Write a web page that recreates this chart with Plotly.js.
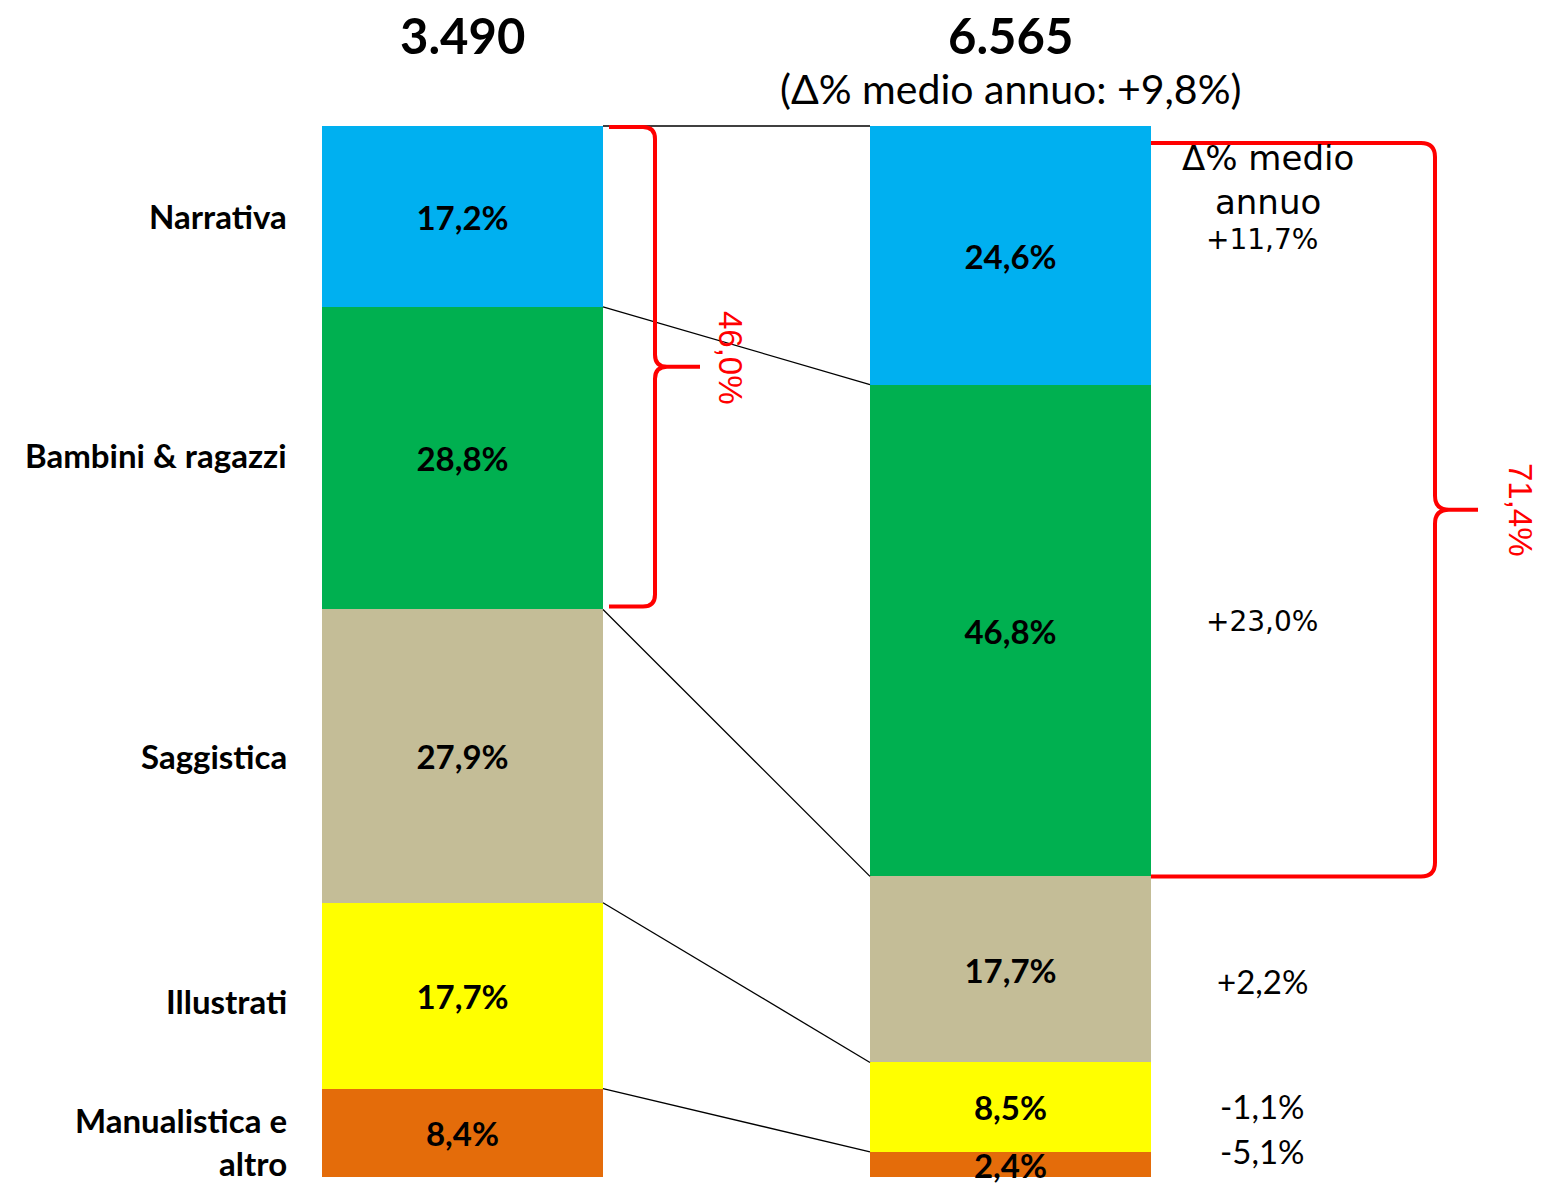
<!DOCTYPE html>
<html>
<head>
<meta charset="utf-8">
<script src="https://cdn.plot.ly/plotly-3.0.1.min.js"></script>
<style>
  html, body { margin: 0; padding: 0; background: #ffffff; }
  #chart { width: 1557px; height: 1197px; }
</style>
</head>
<body>
<div id="chart"></div>
<script>
// ---------------- DATA ----------------
const categories = ["Manualistica e<br>altro", "Illustrati", "Saggistica", "Bambini & ragazzi", "Narrativa"];
const leftShares  = [8.4, 17.7, 27.9, 28.8, 17.2];
const rightShares = [2.4, 8.5, 17.7, 46.8, 24.6];
const growthLabels = ["-5,1%", "-1,1%", "+2,2%", "+23,0%", "+11,7%"];
const totalLeft = "3.490";
const totalRight = "6.565";
const totalGrowth = "(Δ% medio annuo: +9,8%)";
const growthHeader = "Δ% medio<br>annuo";
const braceLeftLabel = "46,0%";
const braceRightLabel = "71,4%";

// ---------------- STYLE / LAYOUT ----------------
const colors = ["#E46C0A", "#FFFF00", "#C4BD97", "#00B050", "#00B0F0"];
const W = 1557, H = 1197;
const PX0 = 462.5, PXU = 548;      // pixel x of bar 0 centre, px per x unit
const PY0 = 1177, PYU = 10.51;     // pixel y of value 0, px per value unit
const X = px => (px - PX0) / PXU;
const Y = py => (PY0 - py) / PYU;
const barW = 281 / PXU;
const fmt = v => v.toFixed(1).replace('.', ',') + '%';
const textShift = -5 / PYU;        // optical shift of labels inside bars

function cumul(arr) { const out = [0]; arr.forEach(v => out.push(out[out.length - 1] + v)); return out; }
const cumL = cumul(leftShares), cumR = cumul(rightShares);

const CAL_B = "Lato, 'Open Sans', sans-serif";
const VERD = "'DejaVu Sans', Verdana, sans-serif";

const traces = categories.map((c, i) => ({
  type: 'bar', x: [0, 1], y: [leftShares[i], rightShares[i]],
  width: barW, name: c, marker: { color: colors[i], line: { width: 0 } },
  hoverinfo: 'skip', showlegend: false
}));

// labels inside bars
const tx = [], ty = [], tt = [];
leftShares.forEach((v, i) => { tx.push(0); ty.push(cumL[i] + v / 2 + textShift); tt.push(fmt(v)); });
rightShares.forEach((v, i) => { tx.push(1); ty.push(cumR[i] + v / 2 + textShift); tt.push(fmt(v)); });
traces.push({
  type: 'scatter', mode: 'text', x: tx, y: ty, text: tt.map(t => '<b>' + t + '</b>'),
  textposition: 'middle center', cliponaxis: false, hoverinfo: 'skip', showlegend: false,
  textfont: { family: CAL_B, size: 33, color: '#000000' }
});

const shapes = [];
// connecting lines
const xL = barW / 2, xR = 1 - barW / 2, xRR = 1 + barW / 2;
for (let i = 1; i < cumL.length; i++) {
  shapes.push({ type: 'line', xref: 'x', yref: 'y', x0: xL, y0: cumL[i], x1: xR, y1: cumR[i],
    line: { color: '#000000', width: 1.3 } });
}

// braces (built in pixel space, converted to data coords)
function bracePath(xs, xv, xt, yTop, yBot, r) {
  const ym = (yTop + yBot) / 2;
  const pts = [
    ['M', xs, yTop], ['L', xv - r, yTop], ['Q', xv, yTop, xv, yTop + r],
    ['L', xv, ym - r], ['Q', xv, ym, xv + r, ym], ['L', xt, ym],
    ['L', xv + r, ym], ['Q', xv, ym, xv, ym + r],
    ['L', xv, yBot - r], ['Q', xv, yBot, xv - r, yBot], ['L', xs, yBot]
  ];
  return pts.map(p => {
    let s = p[0];
    for (let k = 1; k < p.length; k += 2) s += ' ' + X(p[k]).toFixed(5) + ',' + Y(p[k + 1]).toFixed(5);
    return s;
  }).join(' ');
}
const pyOf = v => PY0 - v * PYU;
const pxOf = x => PX0 + x * PXU;
// left brace spans Narrativa + Bambini of the left bar
const lTop = pyOf(cumL[5]) + 1, lBot = pyOf(cumL[3]) - 3;
shapes.push({ type: 'path', xref: 'x', yref: 'y',
  path: bracePath(pxOf(xL) + 6, 655, 700, lTop, lBot, 12),
  line: { color: '#FF0000', width: 4 } });
// right brace spans Narrativa + Bambini of the right bar
const rTop = pyOf(cumR[5]) + 17, rBot = pyOf(cumR[3]);
shapes.push({ type: 'path', xref: 'x', yref: 'y',
  path: bracePath(pxOf(xRR), 1435, 1478, rTop, rBot, 14),
  line: { color: '#FF0000', width: 4 } });

const annotations = [];
// category labels (small optical pixel offsets)
const catShiftPx = [9, 5, 0, -3, 0];
categories.forEach((c, i) => {
  annotations.push({ x: X(289), y: cumL[i] + leftShares[i] / 2 - catShiftPx[i] / PYU, xref: 'x', yref: 'y',
    text: '<b>' + c + '</b>', showarrow: false, xanchor: 'right', yanchor: 'middle', align: 'right',
    font: { family: CAL_B, size: 33, color: '#000000' } });
});
// totals
annotations.push({ x: 0, y: Y(35), xref: 'x', yref: 'y', text: '<b>' + totalLeft + '</b>', showarrow: false,
  font: { family: CAL_B, size: 49, color: '#000000' } });
annotations.push({ x: 1, y: Y(35), xref: 'x', yref: 'y', text: '<b>' + totalRight + '</b>', showarrow: false,
  font: { family: CAL_B, size: 49, color: '#000000' } });
annotations.push({ x: 1, y: Y(88), xref: 'x', yref: 'y', text: totalGrowth, showarrow: false,
  font: { family: CAL_B, size: 41, color: '#000000' } });
// growth header
annotations.push({ x: X(1268), y: Y(180), xref: 'x', yref: 'y', text: growthHeader, showarrow: false,
  align: 'center', font: { family: VERD, size: 34, color: '#000000' } });
// growth labels (pixel y positions of each label, bottom to top)
const growthPy = [1151, 1106, 981, 621, 239];
const growthFonts = [CAL_B, CAL_B, CAL_B, VERD, VERD];
const growthSizes = [33, 33, 33, 28, 28];
growthLabels.forEach((g, i) => {
  annotations.push({ x: X(1262), y: Y(growthPy[i]), xref: 'x', yref: 'y', text: g, showarrow: false,
    font: { family: growthFonts[i], size: growthSizes[i], color: '#000000' } });
});
// brace labels
annotations.push({ x: X(731), y: Y(358), xref: 'x', yref: 'y', text: braceLeftLabel, showarrow: false,
  textangle: 90, font: { family: "'Liberation Sans', Arial, sans-serif", size: 33, color: '#FF0000' } });
annotations.push({ x: X(1521), y: Y(510), xref: 'x', yref: 'y', text: braceRightLabel, showarrow: false,
  textangle: 90, font: { family: "'Liberation Sans', Arial, sans-serif", size: 33, color: '#FF0000' } });

const layout = {
  width: W, height: H,
  margin: { l: 0, r: 0, t: 0, b: 0, pad: 0 },
  paper_bgcolor: '#ffffff', plot_bgcolor: '#ffffff',
  barmode: 'stack', bargap: 0,
  showlegend: false,
  xaxis: { range: [X(0), X(W)], showgrid: false, zeroline: false, showticklabels: false, showline: false, fixedrange: true },
  yaxis: { range: [Y(H), Y(0)], showgrid: false, zeroline: false, showticklabels: false, showline: false, fixedrange: true },
  shapes: shapes,
  annotations: annotations
};

Plotly.newPlot('chart', traces, layout, { displayModeBar: false, staticPlot: true });
</script>
</body>
</html>
